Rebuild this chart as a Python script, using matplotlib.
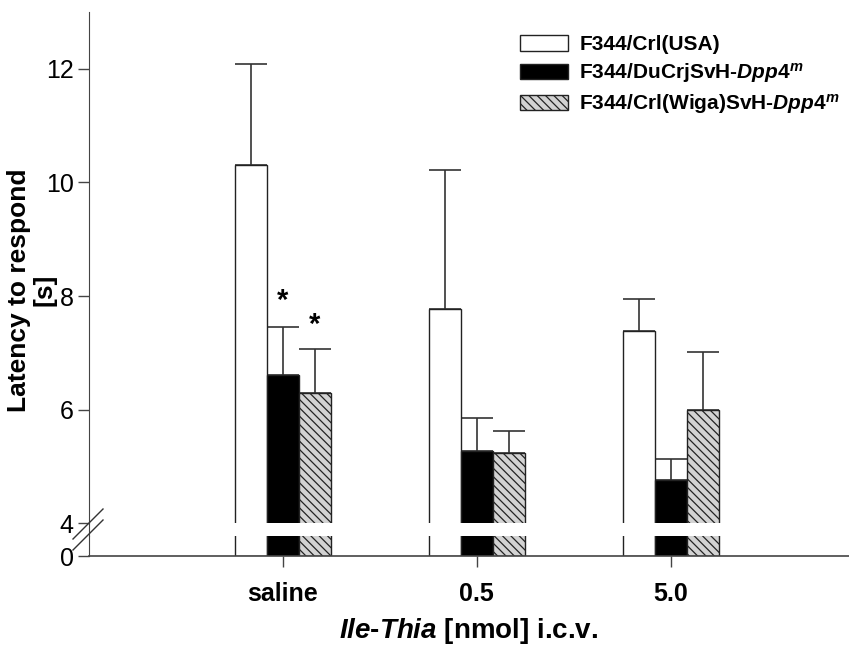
import matplotlib
matplotlib.use("Agg")
import matplotlib.pyplot as plt
import numpy as np
from matplotlib.lines import Line2D
from matplotlib.patches import Patch

plt.rcParams['font.family'] = ['Liberation Sans', 'DejaVu Sans']
plt.rcParams['mathtext.fontset'] = 'custom'
plt.rcParams['mathtext.it'] = 'Liberation Sans:bold:italic'
plt.rcParams['mathtext.rm'] = 'Liberation Sans:bold'
plt.rcParams['hatch.color'] = '#3a3a3a'
plt.rcParams['hatch.linewidth'] = 0.9

groups = ["saline", "0.5", "5.0"]
series_labels = ["F344/Crl(USA)",
                 r"F344/DuCrjSvH-$\mathit{Dpp4}^{\mathit{m}}$",
                 r"F344/Crl(Wiga)SvH-$\mathit{Dpp4}^{\mathit{m}}$"]
usa = [10.30, 7.78, 7.38]
usa_err = [1.79, 2.44, 0.56]
ducrj = [6.61, 5.28, 4.77]
ducrj_err = [0.85, 0.57, 0.36]
wiga = [6.30, 5.24, 5.99]
wiga_err = [0.77, 0.39, 1.03]
star_groups = [0, 0]
star_series = [1, 2]
star_y = [7.92, 7.5]
yticks_upper = [4, 6, 8, 10, 12]
ylabel_lines = ["Latency to respond", "[s]"]
xlabel_text = r"$\mathit{Ile}$-$\mathit{Thia}$ [nmol] i.c.v."

W, H = 849, 646
fig = plt.figure(figsize=(W / 100, H / 100), dpi=100)

left = 89 / W
width = 1 - left
up_bot = (H - 523.3) / H
up_top = (H - 12) / H
lo_bot = (H - 556) / H
lo_top = (H - 536) / H
ax = fig.add_axes([left, up_bot, width, up_top - up_bot])
axl = fig.add_axes([left, lo_bot, width, lo_top - lo_bot])

x = np.arange(1, len(groups) + 1)
bw = 0.165
series = [(usa, usa_err, dict(facecolor='white', hatch=None)),
          (ducrj, ducrj_err, dict(facecolor='black', hatch=None)),
          (wiga, wiga_err, dict(facecolor='#d2d2d2', hatch='\\\\\\\\'))]
offsets = [-bw, 0, bw]
edge = '#222222'
for a in (ax, axl):
    for (vals, errs, st), off in zip(series, offsets):
        a.bar(x + off, vals, width=bw, edgecolor=edge, linewidth=1.0, zorder=2, **st)
for (vals, errs, st), off in zip(series, offsets):
    ax.errorbar(x + off, vals, yerr=[np.zeros(len(vals)), errs], fmt='none',
                ecolor='#333333', elinewidth=1.2, capsize=11.5, capthick=1.2, zorder=1)

for g, s, yv in zip(star_groups, star_series, star_y):
    ax.text(x[g] + offsets[s], yv, '*', ha='center', va='center',
            fontsize=21, fontweight='bold', color='black')

xmin, xmax = 0.0, 3.92
for a in (ax, axl):
    a.set_xlim(xmin, xmax)
    a.spines['top'].set_visible(False)
    a.spines['right'].set_visible(False)
    a.spines['left'].set_color('#444444')
    a.spines['bottom'].set_color('#444444')
    a.tick_params(axis='y', direction='out', length=8, width=1, color='#444444',
                  labelsize=18, pad=3)
    a.patch.set_visible(False)

ax.set_ylim(4, 13)
ax.set_yticks(yticks_upper)
ax.set_yticklabels([str(v) for v in yticks_upper])
ax.spines['bottom'].set_visible(False)
ax.set_xticks([])

axl.set_ylim(0, 0.35)
axl.set_yticks([0])
axl.set_yticklabels(['0'])
axl.spines['bottom'].set_linewidth(1.2)
axl.set_xticks(x)
axl.set_xticklabels(groups, fontsize=18, fontweight='bold')
axl.tick_params(axis='x', direction='out', length=8, width=1, color='#444444', pad=11)

# continuous y spine across the break
fig.add_artist(Line2D([left, left], [lo_top, up_bot], transform=fig.transFigure,
                      color='#444444', linewidth=0.8))
# break marks
for dy in (0, 11):
    fig.add_artist(Line2D([73 / W, 103 / W], [(H - 539 - dy) / H, (H - 509 - dy) / H],
                          transform=fig.transFigure, color='#333333', linewidth=1.0))

fig.text((89 + W) / 2 / W, (H - 631) / H, xlabel_text, ha='center', va='center',
         fontsize=20, fontweight='bold')
fig.text(19 / W, (H - 290) / H, ylabel_lines[0], rotation=90,
         ha='center', va='center', fontsize=19, fontweight='bold')
fig.text(44 / W, (H - 290) / H, ylabel_lines[1], rotation=90,
         ha='center', va='center', fontsize=19, fontweight='bold')

handles = [Patch(facecolor=st['facecolor'], hatch=st['hatch'], edgecolor=edge, linewidth=1.0)
           for (_, _, st) in series]
leg = fig.legend(handles, series_labels, loc='upper left',
                 bbox_to_anchor=(520 / W, (H - 35) / H), frameon=False,
                 prop={'weight': 'bold', 'size': 15}, handlelength=2.3, handleheight=0.77,
                 handletextpad=0.55, labelspacing=0.34, borderaxespad=0, borderpad=0)

fig.savefig("out.png", dpi=100)
